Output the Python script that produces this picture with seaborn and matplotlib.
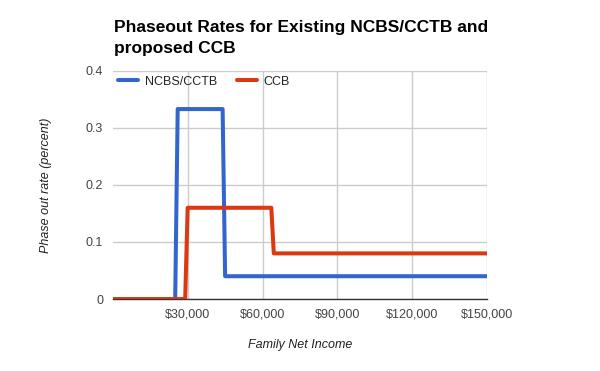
import pandas as pd
import matplotlib.pyplot as plt
import seaborn as sns
from matplotlib.ticker import FuncFormatter

IMAGE_DPI = 100

# phase-out schedule (income in $, rate as fraction)
ncbs_income = [0, 25000, 26000, 44000, 45000, 150000]
ncbs_rate = [0, 0, 0.333, 0.333, 0.04, 0.04]
ccb_income = [0, 29000, 30000, 63500, 64500, 150000]
ccb_rate = [0, 0, 0.16, 0.16, 0.08, 0.08]

series_names = ['NCBS/CCTB', 'CCB']
series_colors = ['#3366cc', '#dc3912']
x_ticks = [30000, 60000, 90000, 120000, 150000]
y_ticks = [0, 0.1, 0.2, 0.3, 0.4]

df = pd.concat([
    pd.DataFrame({'income': ncbs_income, 'rate': ncbs_rate, 'program': series_names[0]}),
    pd.DataFrame({'income': ccb_income, 'rate': ccb_rate, 'program': series_names[1]}),
])

sns.set_style('white')
plt.rcParams['font.family'] = ['Liberation Sans', 'DejaVu Sans']

fig = plt.figure(figsize=(6, 3.71), dpi=IMAGE_DPI)
ax = fig.add_axes([0.188, 0.194, 0.624, 0.615])

sns.lineplot(
    data=df, x='income', y='rate', hue='program',
    palette=dict(zip(series_names, series_colors)),
    estimator=None, sort=False, linewidth=2.9, ax=ax,
)

ax.set_xlim(0, 150000)
ax.set_ylim(0, 0.4)
ax.set_xticks(x_ticks)
ax.set_yticks(y_ticks)
ax.xaxis.set_major_formatter(FuncFormatter(lambda v, p: f'${v:,.0f}'))
ax.yaxis.set_major_formatter(FuncFormatter(lambda v, p: '0' if v == 0 else f'{v:.1f}'))
ax.tick_params(axis='both', length=0, labelsize=9, colors='#444444')
ax.tick_params(axis='x', pad=7)
ax.tick_params(axis='y', pad=7)

ax.grid(True, color='#cccccc', linewidth=1)
for s in ['top', 'left', 'right']:
    ax.spines[s].set_visible(False)
ax.spines['bottom'].set_color('#333333')
ax.spines['bottom'].set_linewidth(1)
ax.spines['bottom'].set_zorder(1)

ax.set_xlabel('Family Net Income', fontsize=9, style='italic', color='#222222', labelpad=13)
ax.set_ylabel('Phase out rate (percent)', fontsize=9, style='italic', color='#222222', labelpad=24)

fig.text(0.19, 0.849, 'Phaseout Rates for Existing NCBS/CCTB and\nproposed CCB',
         fontsize=12.5, fontweight='bold', color='black', ha='left', va='bottom',
         linespacing=1.5)

ax.legend(loc='upper left', bbox_to_anchor=(0.0, 1.0), ncol=2, frameon=False,
          fontsize=9, handlelength=1.6, handletextpad=0.55, columnspacing=1.6,
          borderaxespad=0.2, borderpad=0.2, labelcolor='#222222', title=None)

plt.savefig('out.png', dpi=IMAGE_DPI)
plt.close()
